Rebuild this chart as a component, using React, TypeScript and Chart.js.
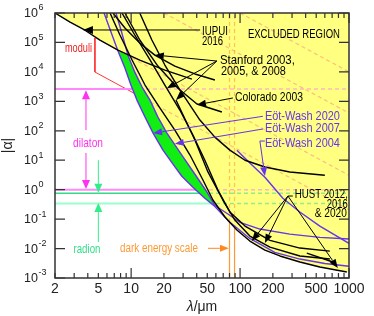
import React, { useEffect, useRef } from 'react';
import { Chart, registerables } from 'chart.js';

Chart.register(...registerables);

// ---------- axis tick labels ----------
const xTickLabels = [2, 5, 10, 20, 50, 100, 200, 500, 1000];
const yTickExponents = [-3, -2, -1, 0, 1, 2, 3, 4, 5, 6];

// ---------- experimental limits: [lambda (um), |alpha|] ----------
const iupui2016 = [[2.0, 1e6], [2.75, 4.9e5], [3.77, 2.6e5], [5.17, 1.2e5], [7.57, 5.5e4], [12.0, 2.5e4], [20.4, 1.15e4], [36.1, 5.7e3]];
const stanford2003 = [[6.81, 1e6], [8.77, 3.1e5], [12.0, 9.6e4], [16.5, 3.7e4], [25.2, 1.58e4], [38.5, 8.5e3], [58.7, 5.3e3]];
const colorado2003 = [[8.77, 1e6], [12.0, 1.21e5], [17.6, 1.58e4], [26.9, 2.8e3], [40.2, 811], [68.1, 434]];
const stanford2005 = [[12.0, 1e6], [15.5, 1.21e5], [20.4, 1.71e4], [28.0, 2.43e3], [42.8, 232], [58.7, 61], [80.6, 22], [111, 10], [169, 5.9], [286, 4.0], [600, 3.1]];
const hust2012 = [[8.24, 1e6], [10.8, 1.79e5], [14.9, 2.54e4], [20.4, 3.58e3], [28.0, 507], [36.9, 72], [47.5, 10], [62.6, 0.97], [80.6, 0.174], [111, 0.058], [188, 0.019], [354, 0.0104], [667, 0.0082]];
const hust2016 = [[25.8, 1.11e3], [38.5, 48.5], [50.7, 4.0], [69.5, 0.445], [89.7, 0.093], [123, 0.0266], [188, 0.0112], [354, 0.0056], [667, 0.0044]];
const hust2020 = [[6.40, 1e6], [7.89, 1.79e5], [10.2, 2.54e4], [13.4, 3.58e3], [18.4, 593], [25.2, 106], [34.7, 15.0], [45.6, 2.13], [56.3, 0.445], [72.6, 0.118], [93.5, 0.0426], [123, 0.018], [169, 0.0089], [232, 0.0056], [354, 0.0035], [540, 0.00236], [955, 0.0016]];
const hust2020Short = [[410, 0.0070], [711, 0.0035]];
const eotWash2020 = [[5.64, 1e6], [6.53, 2.26e5], [7.57, 5.1e4], [8.77, 1.36e4], [9.95, 3.58e3], [11.3, 1.1e3], [13.4, 293], [15.9, 83], [19.6, 22], [24.2, 7.4], [29.2, 2.86], [36.9, 1.21], [47.5, 0.51], [58.7, 0.27], [80.6, 0.078], [123, 0.022], [208, 0.0074], [354, 0.0044], [600, 0.0031], [1000, 0.0025]];
const eotWash2007 = [[7.26, 1e6], [8.07, 2.64e5], [9.35, 3.7e4], [10.8, 9.8e3], [12.6, 3.06e3], [14.9, 1.1e3], [17.6, 293], [21.3, 83], [29.2, 14.8], [40.2, 2.64], [49.7, 0.83], [58.7, 0.29], [72.6, 0.174], [99.6, 0.078], [152, 0.046], [286, 0.031], [540, 0.024], [1000, 0.021]];
const eotWash2004 = [[93.5, 22], [123, 8.0], [169, 2.64], [247, 0.51], [354, 0.174], [540, 0.058], [1000, 0.015]];
const excludedRightEdge = [1000, 0.0015];

// ---------- theoretical predictions ----------
const dilatonLevels = [2600, 1.0];
const radionLevels = [0.76, 0.34];
const darkEnergyLambdas = [80, 89];
const moduliEdge = [[4.65, 1.42e5], [4.65, 9.9e3]];
const moduliLower = [[4.65, 9.9e3], [1000, 0.21]];
const moduliUpper = [[4.65, 1.42e5], [1000, 3.07]];
const moduliFamilyA = [[20, 1e6], [1000, 400]];
const moduliFamilyB = [[100, 1e6], [1000, 1e4]];

// ---------- pointers (data coordinates) ----------
const iupuiPointer = [[43, 2.65e5], [3.61, 2.65e5]];
const stanfordPointerFrom = [61.2, 2.34e4];
const stanfordPointerTips = [[16.5, 3.74e4], [21.3, 2.8e3], [25.8, 1.11e3]];
const coloradoPointer = [[85.9, 1.3e3], [40.2, 760]];
const ew2020Pointer = [[162, 310], [15.9, 83]];
const ew2007Pointer = [[162, 115], [25.2, 36]];
const ew2004Pointer = [[169, 44.9], [152, 44.9], [169, 2.9]];
const hustPointerFrom = [[305, 0.608], [275, 0.608]];
const hustPointerTips = [[128, 0.018], [169, 0.0154], [789, 0.00218]];
const dilatonArrows = [[[3.85, 106], [3.85, 2400]], [[3.85, 17.6], [3.85, 1.05]]];
const radionArrows = [[[5.0, 10], [5.0, 0.78]], [[5.0, 0.0166], [5.0, 0.35]]];
const darkEnergyArrow = [[50.7, 0.0102], [79, 0.0102]];

// ---------- annotation texts ----------
const labelTexts = ['IUPUI', '2016', 'EXCLUDED REGION', 'Stanford 2003,', '2005, & 2008', 'Colorado 2003', 'Eöt-Wash 2020', 'Eöt-Wash 2007', 'Eöt-Wash 2004', 'HUST 2012,', '2016', '& 2020', 'moduli', 'dilaton', 'radion', 'dark energy scale'];
const labelAnchors = [[44.7, 2.36e5], [44.7, 1.04e5], [118, 1.79e5], [65.3, 2.34e4], [66.7, 1.03e4], [89.7, 1.3e3], [169, 310], [169, 115], [169, 35.5], [975, 0.658], [975, 0.30], [955, 0.155], [2.47, 6.0e4], [4.02, 35.5], [3.93, 0.0089], [7.89, 0.0096]];

const PURPLE = '#6633ee';
const labelStyles = [
  { c: '#000', w: 26, a: 'left' }, { c: '#000', w: 21, a: 'left' }, { c: '#000', w: 92, a: 'left' },
  { c: '#000', w: 75, a: 'left' }, { c: '#000', w: 65, a: 'left' }, { c: '#000', w: 68, a: 'left' },
  { c: PURPLE, w: 75, a: 'left' }, { c: PURPLE, w: 75, a: 'left' }, { c: PURPLE, w: 75, a: 'left' },
  { c: '#000', w: 53, a: 'right' }, { c: '#000', w: 21, a: 'right' }, { c: '#000', w: 32, a: 'right' },
  { c: '#ee2222', w: 27, a: 'left' }, { c: '#ff33ee', w: 30, a: 'center' }, { c: '#33dd88', w: 27, a: 'center' },
  { c: '#ff9933', w: 78, a: 'left' },
];

const FONT = '"Liberation Sans", Arial, Helvetica, sans-serif';

const envelope = [
  ...iupui2016.filter(([l]) => l < 6),
  ...eotWash2020.filter(([l]) => l >= 7.5 && l <= 59),
  ...hust2020.filter(([l]) => l > 60),
  excludedRightEdge,
];
const greenBand = [
  ...eotWash2020.filter(([l]) => l >= 7.5 && l <= 59),
  ...eotWash2007.filter(([l]) => l >= 9 && l <= 59).reverse(),
];

const toXY = (a: number[][]) => a.map(([x, y]) => ({ x, y }));

function buildDatasets() {
  const line = (data: number[][], color: string, width: number, order: number, extra: any = {}) => ({
    data: toXY(data), borderColor: color, borderWidth: width, pointRadius: 0, pointHoverRadius: 0,
    showLine: true, fill: false, tension: 0, order, borderJoinStyle: 'round', ...extra,
  });
  const ds: any[] = [];
  [iupui2016, stanford2003, colorado2003, stanford2005, hust2012, hust2016, hust2020, hust2020Short].forEach((c) => ds.push(line(c, '#000', 1.4, 1)));
  [eotWash2020, eotWash2007, eotWash2004].forEach((c) => ds.push(line(c, PURPLE, 1.4, 1)));
  ds.push(line(greenBand, 'rgba(0,0,0,0)', 0, 2, { fill: 'shape', backgroundColor: '#11ee11' }));
  // pale dashed continuations inside the excluded region
  const dash = { borderDash: [4, 3], clipExcluded: true };
  dilatonLevels.forEach((v) => ds.push(line([[2, v], [1000, v]], 'rgba(255,110,255,0.5)', 1.5, 3, dash)));
  radionLevels.forEach((v) => ds.push(line([[2, v], [1000, v]], 'rgba(40,220,140,0.5)', 1.5, 3, dash)));
  darkEnergyLambdas.forEach((v) => ds.push(line([[v, 1e-3], [v, 1e6]], 'rgba(255,140,40,0.5)', 1.2, 3, dash)));
  [moduliLower, moduliUpper, moduliFamilyA, moduliFamilyB].forEach((c) => ds.push(line(c, 'rgba(255,90,120,0.4)', 1.2, 3, dash)));
  ds.push(line(envelope, 'rgba(0,0,0,0)', 0, 4, { fill: 'end', backgroundColor: '#ffff80' }));
  // solid theory lines (visible in the allowed region)
  ds.push(line([[2, dilatonLevels[0]], [1000, dilatonLevels[0]]], '#ff88ff', 2, 5));
  ds.push(line([[2, dilatonLevels[1]], [1000, dilatonLevels[1]]], '#ff88ff', 2, 5));
  ds.push(line([[2, radionLevels[0]], [1000, radionLevels[0]]], '#33dd88', 1.5, 5));
  ds.push(line([[2, radionLevels[1]], [1000, radionLevels[1]]], '#99ffcc', 2, 5));
  darkEnergyLambdas.forEach((v) => ds.push(line([[v, 1e-3], [v, 1e6]], '#ff9933', 1.2, 5)));
  ds.push(line(moduliEdge, '#ff3333', 1, 5));
  ds.push(line(moduliLower, '#ff3333', 1, 5));
  return ds;
}

function arrow(ctx: CanvasRenderingContext2D, x0: number, y0: number, x1: number, y1: number, color: string, lw = 1, len = 9, half = 3.5) {
  const a = Math.atan2(y1 - y0, x1 - x0);
  const bx = x1 - len * Math.cos(a), by = y1 - len * Math.sin(a);
  ctx.strokeStyle = color; ctx.lineWidth = lw;
  ctx.beginPath(); ctx.moveTo(x0, y0); ctx.lineTo(bx, by); ctx.stroke();
  ctx.fillStyle = color;
  ctx.beginPath(); ctx.moveTo(x1, y1);
  ctx.lineTo(bx + half * Math.sin(a), by - half * Math.cos(a));
  ctx.lineTo(bx - half * Math.sin(a), by + half * Math.cos(a));
  ctx.closePath(); ctx.fill();
}

const decor = {
  id: 'decor',
  beforeDatasetDraw(chart: any, args: any) {
    const d = chart.data.datasets[args.index];
    if (!d.clipExcluded) return;
    const { ctx, chartArea: ca, scales: { x, y } } = chart;
    ctx.save();
    ctx.beginPath();
    envelope.forEach(([l, a], i) => {
      const px = x.getPixelForValue(l), py = y.getPixelForValue(a);
      if (i) ctx.lineTo(px, py); else ctx.moveTo(px, py);
    });
    ctx.lineTo(ca.right, ca.top); ctx.lineTo(ca.left, ca.top); ctx.closePath();
    ctx.clip();
  },
  afterDatasetDraw(chart: any, args: any) {
    const d = chart.data.datasets[args.index];
    if (d.clipExcluded) chart.ctx.restore();
  },
  afterDraw(chart: any) {
    const { ctx, chartArea: ca, scales } = chart;
    const X = (v: number) => scales.x.getPixelForValue(v);
    const Y = (v: number) => scales.y.getPixelForValue(v);
    const P = (p: number[]) => [X(p[0]), Y(p[1])];
    ctx.save();
    ctx.lineCap = 'butt';

    // pointers
    const pa = (from: number[], to: number[], color: string, len = 9, half = 3.5) => {
      const [x0, y0] = P(from); const [x1, y1] = P(to);
      arrow(ctx, x0, y0, x1, y1, color, 1, len, half);
    };
    pa(iupuiPointer[0], iupuiPointer[1], '#000', 10, 4);
    stanfordPointerTips.forEach((t) => pa(stanfordPointerFrom, t, '#000'));
    pa(coloradoPointer[0], coloradoPointer[1], '#000');
    pa(ew2020Pointer[0], ew2020Pointer[1], PURPLE);
    pa(ew2007Pointer[0], ew2007Pointer[1], PURPLE);
    {
      const [a0, a1] = P(ew2004Pointer[0]); const [b0, b1] = P(ew2004Pointer[1]);
      ctx.strokeStyle = PURPLE; ctx.lineWidth = 1;
      ctx.beginPath(); ctx.moveTo(a0, a1); ctx.lineTo(b0, b1); ctx.stroke();
      pa(ew2004Pointer[1], ew2004Pointer[2], PURPLE);
    }
    {
      const [a0, a1] = P(hustPointerFrom[0]); const [b0, b1] = P(hustPointerFrom[1]);
      ctx.strokeStyle = '#000'; ctx.lineWidth = 1;
      ctx.beginPath(); ctx.moveTo(a0, a1); ctx.lineTo(b0, b1); ctx.stroke();
      hustPointerTips.forEach((t) => pa(hustPointerFrom[1], t, '#000'));
    }
    dilatonArrows.forEach(([f, t]) => pa(f, t, '#ff33ee', 9, 4));
    radionArrows.forEach(([f, t]) => pa(f, t, '#33ee88', 9, 4));
    pa(darkEnergyArrow[0], darkEnergyArrow[1], '#ff8822', 9, 3.5);

    // annotation texts
    ctx.font = `12px ${FONT}`;
    ctx.textBaseline = 'middle';
    labelTexts.forEach((t, i) => {
      const s = labelStyles[i];
      const [px, py] = P(labelAnchors[i]);
      ctx.fillStyle = s.c;
      ctx.textAlign = s.a;
      ctx.fillText(t, px, py, s.w);
    });

    // frame
    ctx.strokeStyle = '#333'; ctx.lineWidth = 1.5;
    ctx.strokeRect(ca.left, ca.top, ca.right - ca.left, ca.bottom - ca.top);

    // ticks (inside)
    ctx.lineWidth = 1.2; ctx.strokeStyle = '#333';
    ctx.beginPath();
    for (let d = 1; d <= 1000; d *= 10) {
      for (let m = 1; m <= 9; m++) {
        const v = m * d;
        if (v < 2 || v > 1000) continue;
        const px = X(v);
        const len = m === 1 ? 10 : 5;
        ctx.moveTo(px, ca.bottom); ctx.lineTo(px, ca.bottom - len);
        ctx.moveTo(px, ca.top); ctx.lineTo(px, ca.top + len);
      }
    }
    yTickExponents.forEach((e) => {
      const py = Y(Math.pow(10, e));
      ctx.moveTo(ca.left, py); ctx.lineTo(ca.left + 10, py);
      ctx.moveTo(ca.right, py); ctx.lineTo(ca.right - 10, py);
    });
    ctx.stroke();

    // tick labels
    ctx.fillStyle = '#222';
    ctx.textBaseline = 'middle';
    ctx.textAlign = 'center';
    ctx.font = `14px ${FONT}`;
    xTickLabels.forEach((v) => ctx.fillText(String(v), X(v), ca.bottom + 11));
    ctx.textAlign = 'left';
    yTickExponents.forEach((e) => {
      const py = Y(Math.pow(10, e));
      const x0 = ca.left - 31;
      ctx.font = `12.5px ${FONT}`;
      ctx.fillText('10', x0, py + 0.5);
      const w = ctx.measureText('10').width;
      ctx.font = `9px ${FONT}`;
      ctx.fillText(String(e), x0 + w + 0.5, py - 5);
    });

    // axis titles
    ctx.fillStyle = '#222';
    const cx = (ca.left + ca.right) / 2;
    ctx.font = `italic 14px ${FONT}`;
    const w1 = ctx.measureText('λ').width;
    ctx.font = `14px ${FONT}`;
    const w2 = ctx.measureText('/μm').width;
    const sx = cx - (w1 + w2) / 2;
    ctx.textAlign = 'left';
    ctx.font = `italic 14px ${FONT}`;
    ctx.fillText('λ', sx, 307);
    ctx.font = `14px ${FONT}`;
    ctx.fillText('/μm', sx + w1, 307);

    ctx.save();
    ctx.translate(8, (ca.top + ca.bottom) / 2);
    ctx.rotate(-Math.PI / 2);
    ctx.textAlign = 'center';
    ctx.font = `14px ${FONT}`;
    ctx.fillText('|α|', 0, 0);
    ctx.restore();

    ctx.restore();
  },
};

export default function App() {
  const ref = useRef<HTMLCanvasElement>(null);
  useEffect(() => {
    const canvas = ref.current!;
    const chart = new Chart(canvas, {
      type: 'scatter',
      data: { datasets: buildDatasets() },
      options: {
        responsive: false,
        animation: false,
        events: [],
        layout: { padding: { left: 0, right: 25, top: 13, bottom: 0 } },
        plugins: { legend: { display: false }, tooltip: { enabled: false } },
        scales: {
          x: {
            type: 'logarithmic', min: 2, max: 1000,
            ticks: { display: false }, grid: { display: false }, border: { display: false },
            afterFit: (s: any) => { s.height = 38; },
          },
          y: {
            type: 'logarithmic', min: 1e-3, max: 1e6,
            ticks: { display: false }, grid: { display: false }, border: { display: false },
            afterFit: (s: any) => { s.width = 55; },
          },
        },
      } as any,
      plugins: [decor as any],
    });
    return () => chart.destroy();
  }, []);
  return (
    <div style={{ position: 'absolute', left: 0, top: 0, width: 374, height: 316, background: '#fff' }}>
      <canvas ref={ref} width={374} height={316} style={{ display: 'block' }} />
    </div>
  );
}
